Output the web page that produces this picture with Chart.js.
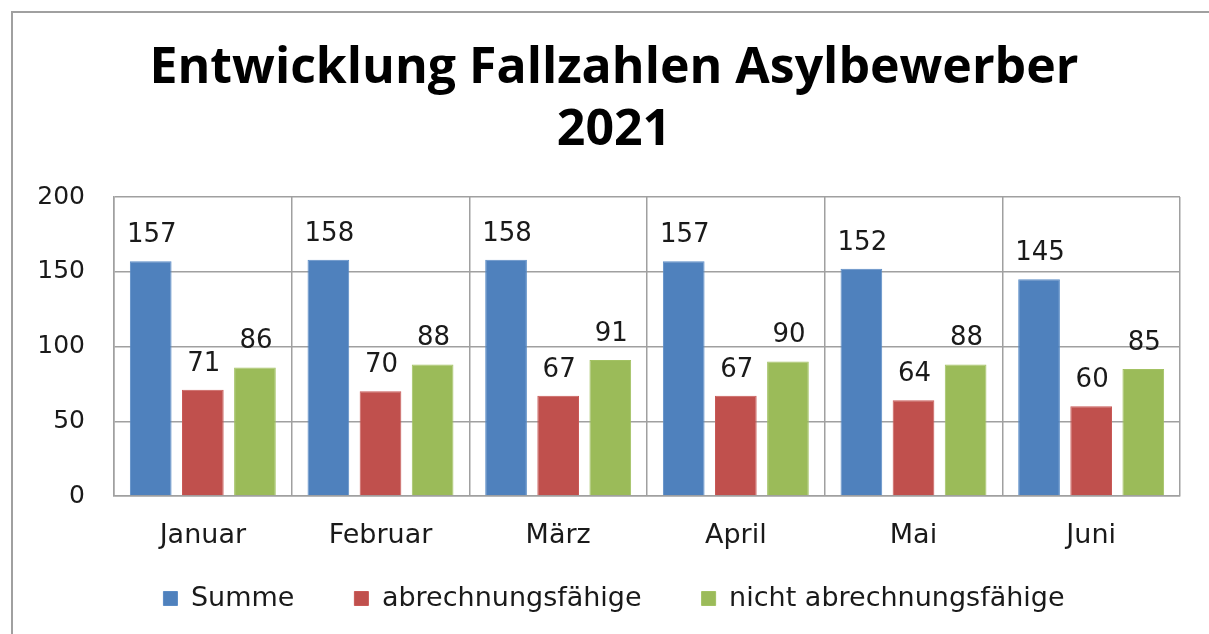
<!DOCTYPE html>
<html>
<head>
<meta charset="utf-8">
<script src="https://cdn.jsdelivr.net/npm/chart.js@4.4.1/dist/chart.umd.min.js"></script>
<style>
  html, body { margin: 0; padding: 0; background: #fff; overflow: hidden; }
  #wrap { position: relative; width: 1209px; height: 634px; }
  #frame { position: absolute; left: 11px; top: 11px; width: 1300px; height: 700px;
           border-left: 2px solid #a0a0a0; border-top: 2px solid #a0a0a0; pointer-events: none; }
  canvas { position: absolute; left: 0; top: 0; }
</style>
</head>
<body>
<div id="wrap">
  <canvas id="c" width="1209" height="634"></canvas>
  <div id="frame"></div>
</div>
<script>
const categories = ["Januar", "Februar", "März", "April", "Mai", "Juni"];
const summe = [157, 158, 158, 157, 152, 145];
const abrechnungsfaehige = [71, 70, 67, 67, 64, 60];
const nichtAbrechnungsfaehige = [86, 88, 91, 90, 88, 85];
const seriesNames = ["Summe", "abrechnungsfähige", "nicht abrechnungsfähige"];
const titleLines = ["Entwicklung Fallzahlen Asylbewerber", "2021"];
const yMax = 200;
const yStep = 50;

const FONT = "'DejaVu Sans', sans-serif";

const valueLabels = {
  id: 'valueLabels',
  afterDatasetsDraw(chart) {
    const ctx = chart.ctx;
    ctx.save();
    ctx.font = "26px " + FONT;
    ctx.fillStyle = "#1a1a1a";
    ctx.textAlign = "center";
    ctx.textBaseline = "alphabetic";
    chart.data.datasets.forEach((ds, di) => {
      const meta = chart.getDatasetMeta(di);
      meta.data.forEach((bar, i) => {
        ctx.fillText(String(ds.data[i]), bar.x + 1, bar.y - 19);
      });
    });
    ctx.restore();
  }
};

// move the legend row up so it sits right below the month labels
const legendShift = {
  id: 'legendShift',
  afterLayout(chart) {
    const lg = chart.legend;
    if (lg) { lg.top -= 31; lg.bottom -= 31; }
  }
};

new Chart(document.getElementById('c'), {
  type: 'bar',
  data: {
    labels: categories,
    datasets: [
      { label: seriesNames[0], data: summe, backgroundColor: '#4F81BD', borderColor: '#5b8cc6', borderWidth: 1 },
      { label: seriesNames[1], data: abrechnungsfaehige, backgroundColor: '#C0504D', borderColor: '#c95a57', borderWidth: 1 },
      { label: seriesNames[2], data: nichtAbrechnungsfaehige, backgroundColor: '#9BBB59', borderColor: '#a3c263', borderWidth: 1 }
    ]
  },
  options: {
    responsive: false,
    animation: false,
    devicePixelRatio: 1,
    categoryPercentage: 0.88,
    barPercentage: 0.8,
    layout: { padding: { left: 19, right: 0, top: 0, bottom: -19 } },
    plugins: {
      title: {
        display: true,
        text: titleLines,
        color: '#000',
        font: { family: "'Open Sans', sans-serif", size: 50, weight: 'bold', lineHeight: 1.25 },
        padding: { top: 37, bottom: 35 }
      },
      legend: {
        position: 'bottom',
        labels: {
          color: '#1a1a1a',
          font: { family: FONT, size: 27 },
          boxWidth: 14,
          boxHeight: 14,
          padding: 60
        }
      },
      tooltip: { enabled: false }
    },
    scales: {
      x: {
        grid: { color: '#a0a0a0', lineWidth: 1.5, drawTicks: false, offset: true },
        border: { color: '#a0a0a0', width: 1.5 },
        ticks: { color: '#1a1a1a', font: { family: FONT, size: 27 }, padding: 24 },
        afterFit(scale) { scale.height = 60; }
      },
      y: {
        min: 0, max: yMax,
        grid: { color: '#a0a0a0', lineWidth: 1.5, drawTicks: false },
        border: { color: '#a0a0a0', width: 1.5 },
        ticks: { stepSize: yStep, color: '#1a1a1a', font: { family: FONT, size: 25 }, padding: 29 },
        afterFit(scale) { scale.width = 95; }
      },
      yRight: {
        position: 'right',
        display: true,
        min: 0, max: yMax,
        grid: { display: false, drawTicks: false },
        border: { display: false },
        ticks: { display: false },
        afterFit(scale) { scale.width = 29; }
      }
    }
  },
  plugins: [valueLabels, legendShift]
});
</script>
</body>
</html>
